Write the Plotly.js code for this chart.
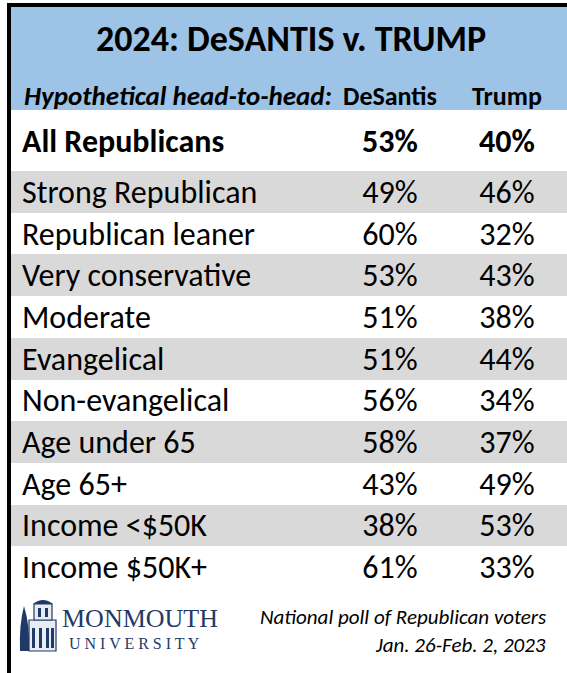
<!DOCTYPE html>
<html>
<head>
<meta charset="utf-8">
<script src="https://cdn.plot.ly/plotly-2.35.2.min.js"></script>
<style>html,body{margin:0;padding:0;background:#fff;}#chart{width:567px;height:673px;}</style>
</head>
<body>
<div id="chart"></div>
<script>
// ---- data ----
var title = "2024: DeSANTIS v. TRUMP";
var subTitle = "Hypothetical head-to-head:";
var candidates = ["DeSantis", "Trump"];
var totalLabel = ["All Republicans"];
var totalDeSantis = [53];
var totalTrump = [40];
var groups = ["Strong Republican", "Republican leaner", "Very conservative", "Moderate", "Evangelical",
              "Non-evangelical", "Age under 65", "Age 65+", "Income <$50K", "Income $50K+"];
var desantis = [49, 60, 53, 51, 51, 56, 58, 43, 38, 61];
var trump    = [46, 32, 43, 38, 44, 34, 37, 49, 53, 33];
var sourceLines = ["National poll of Republican voters", "Jan. 26-Feb. 2, 2023"];
var logoWords = ["MONMOUTH", "UNIVERSITY"];

// ---- layout helpers ----
var W = 567, H = 673;
function py(p) { return 1 - p / H; }
var FONT = "Carlito, Calibri, Lato, sans-serif";
var colDeS = 390, colTr = 507, colLbl = 22;
var tableLeft = 11, tableRight = W;
var ROW_SIZE = 32, TOT_SIZE = 32;
var pct = function (v) { return v + "%"; };
var bold = function (s) { return "<b>" + s + "</b>"; };

function textTrace(axis, ys, xpos, txt, pos, size) {
  return {type: "scatter", mode: "text", yaxis: axis, y: ys, x: ys.map(function () { return xpos; }),
    text: txt, textposition: pos, textfont: {family: FONT, size: size, color: "#000"},
    hoverinfo: "skip", showlegend: false, cliponaxis: false};
}

var traces = [];
// row backgrounds
traces.push({
  type: "bar", orientation: "h", yaxis: "y",
  y: groups, x: groups.map(function () { return tableRight - tableLeft; }), base: tableLeft,
  width: 1, marker: {color: groups.map(function (g, i) { return i % 2 === 0 ? "#d9d9d9" : "#ffffff"; }), line: {width: 0}},
  hoverinfo: "skip", showlegend: false
});
// row labels and values (y3 = same rows, nudged for optical centring)
traces.push(textTrace("y3", groups, colLbl, groups, "middle right", ROW_SIZE));
traces.push(textTrace("y3", groups, colDeS, desantis.map(pct), "middle center", ROW_SIZE));
traces.push(textTrace("y3", groups, colTr, trump.map(pct), "middle center", ROW_SIZE));
// total row
traces.push(textTrace("y2", totalLabel, colLbl, totalLabel.map(bold), "middle right", TOT_SIZE));
traces.push(textTrace("y2", totalLabel, colDeS, totalDeSantis.map(function (v) { return bold(pct(v)); }), "middle center", TOT_SIZE));
traces.push(textTrace("y2", totalLabel, colTr, totalTrump.map(function (v) { return bold(pct(v)); }), "middle center", TOT_SIZE));

var NAVY = "#1f3a68";
var shapes = [
  // blue header
  {type: "rect", xref: "paper", yref: "paper", x0: tableLeft / W, x1: 1, y0: py(110), y1: py(6), fillcolor: "#9dc3e6", line: {width: 0}, layer: "below"},
  // black frame (top and left)
  {type: "rect", xref: "paper", yref: "paper", x0: 7 / W, x1: 1, y0: py(7), y1: py(3), fillcolor: "#000", line: {width: 0}},
  {type: "rect", xref: "paper", yref: "paper", x0: 7 / W, x1: 11 / W, y0: 0, y1: py(3), fillcolor: "#000", line: {width: 0}},
  // logo: tree
  {type: "path", xref: "x", yref: "paper",
   path: "M 24 " + py(606) + " Q 19 " + py(625) + " 20 " + py(651) + " L 29 " + py(651) + " Q 30 " + py(625) + " 24 " + py(606) + " Z",
   fillcolor: NAVY, line: {width: 0}},
  // logo: building
  {type: "rect", xref: "x", yref: "paper", x0: 29, x1: 56, y0: py(651), y1: py(620), fillcolor: "#e9edf3", line: {color: NAVY, width: 1.2}},
  {type: "rect", xref: "x", yref: "paper", x0: 34, x1: 52, y0: py(620), y1: py(604), fillcolor: "#e9edf3", line: {color: NAVY, width: 1.2}},
  {type: "path", xref: "x", yref: "paper",
   path: "M 33 " + py(604) + " Q 43 " + py(596) + " 53 " + py(604) + " Z", fillcolor: NAVY, line: {width: 0}},
  {type: "rect", xref: "x", yref: "paper", x0: 32, x1: 35, y0: py(648), y1: py(628), fillcolor: NAVY, line: {width: 0}},
  {type: "rect", xref: "x", yref: "paper", x0: 39, x1: 42, y0: py(648), y1: py(628), fillcolor: NAVY, line: {width: 0}},
  {type: "rect", xref: "x", yref: "paper", x0: 46, x1: 49, y0: py(648), y1: py(628), fillcolor: NAVY, line: {width: 0}},
  {type: "rect", xref: "x", yref: "paper", x0: 51, x1: 54, y0: py(648), y1: py(628), fillcolor: NAVY, line: {width: 0}},
  {type: "rect", xref: "x", yref: "paper", x0: 38, x1: 41, y0: py(617), y1: py(608), fillcolor: NAVY, line: {width: 0}},
  {type: "rect", xref: "x", yref: "paper", x0: 45, x1: 48, y0: py(617), y1: py(608), fillcolor: NAVY, line: {width: 0}}
];

var annotations = [
  {text: bold(title), xref: "x", yref: "paper", x: 291, y: py(39), showarrow: false,
   xanchor: "center", yanchor: "middle", font: {family: FONT, size: 36, color: "#000"}},
  {text: "<b><i>" + subTitle + "</i></b>", xref: "x", yref: "paper", x: colLbl, y: py(96), showarrow: false,
   xanchor: "left", yanchor: "middle", font: {family: FONT, size: 27, color: "#000"}},
  {text: bold(candidates[0]), xref: "x", yref: "paper", x: colDeS, y: py(96), showarrow: false,
   xanchor: "center", yanchor: "middle", font: {family: FONT, size: 26, color: "#000"}},
  {text: bold(candidates[1]), xref: "x", yref: "paper", x: colTr, y: py(96), showarrow: false,
   xanchor: "center", yanchor: "middle", font: {family: FONT, size: 26, color: "#000"}},
  {text: "<i>" + sourceLines[0] + "</i>", xref: "x", yref: "paper", x: 548, y: py(617), showarrow: false,
   xanchor: "right", yanchor: "middle", font: {family: FONT, size: 21, color: "#000"}},
  {text: "<i>" + sourceLines[1] + "</i>", xref: "x", yref: "paper", x: 548, y: py(645), showarrow: false,
   xanchor: "right", yanchor: "middle", font: {family: FONT, size: 21, color: "#000"}},
  {text: logoWords[0], xref: "x", yref: "paper", x: 60, y: py(618), showarrow: false,
   xanchor: "left", yanchor: "middle", font: {family: "Liberation Serif, serif", size: 26, color: NAVY}},
  {text: logoWords[1].split("").join(" "), xref: "x", yref: "paper", x: 67, y: py(643), showarrow: false,
   xanchor: "left", yanchor: "middle", font: {family: "Liberation Serif, serif", size: 16, color: NAVY}}
];

var SHIFT = 3;
var layout = {
  width: W, height: H, margin: {l: 0, r: 0, t: 0, b: 0, pad: 0},
  paper_bgcolor: "#fff", plot_bgcolor: "rgba(0,0,0,0)",
  showlegend: false, bargap: 0,
  xaxis: {range: [0, W], domain: [0, 1], visible: false, fixedrange: true},
  yaxis: {type: "category", categoryorder: "array", categoryarray: groups, range: [groups.length - 0.5, -0.5],
          domain: [py(588), py(171)], visible: false, fixedrange: true},
  yaxis3: {type: "category", categoryorder: "array", categoryarray: groups, range: [groups.length - 0.5, -0.5],
          domain: [py(588 + SHIFT), py(171 + SHIFT)], anchor: "x", visible: false, fixedrange: true},
  yaxis2: {type: "category", range: [0.5, -0.5], domain: [py(171 + SHIFT), py(110 + SHIFT)], anchor: "x", visible: false, fixedrange: true},
  shapes: shapes, annotations: annotations
};

Plotly.newPlot("chart", traces, layout, {displayModeBar: false, staticPlot: true});
</script>
</body>
</html>
